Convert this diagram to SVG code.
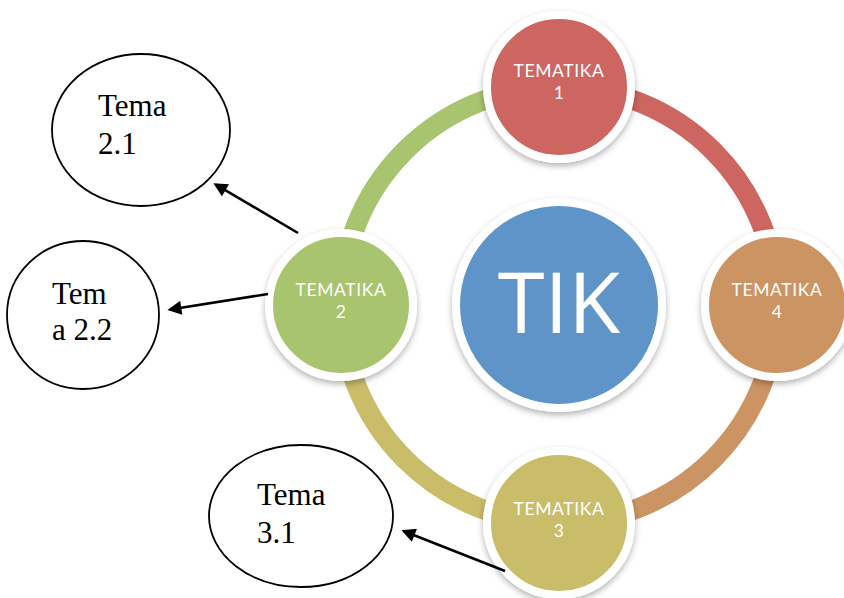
<svg xmlns="http://www.w3.org/2000/svg" width="844" height="598" viewBox="0 0 844 598">
<style>
.ring{fill:none;stroke-width:20}
.node{stroke:#fff;stroke-width:8;filter:url(#sh)}
.nt{font-family:Lato,"Open Sans","Liberation Sans",sans-serif;font-size:17.5px;fill:#fff;text-anchor:middle;letter-spacing:0.6px}
.el{fill:#fff;stroke:#000;stroke-width:1.8}
.et{font-family:"Liberation Serif","Times New Roman",serif;font-size:31px;fill:#000}
.ar{stroke:#000;stroke-width:2.6;fill:none;marker-end:url(#ah)}
</style>
<defs>
<filter id="sh" x="-20%" y="-20%" width="140%" height="140%">
<feDropShadow dx="0" dy="3" stdDeviation="3" flood-color="#000" flood-opacity="0.3"/>
</filter>
<marker id="ah" viewBox="0 0 10 10" refX="8" refY="5" markerWidth="16" markerHeight="14" markerUnits="userSpaceOnUse" orient="auto">
<path d="M0,0 L10,5 L0,10 z" fill="#000"/>
</marker>
</defs>
<rect width="844" height="598" fill="#fff"/>
<g id="ring">
<path class="ring" stroke="#cd6560" d="M559,87 A218,218 0 0 1 777,305"/>
<path class="ring" stroke="#cc9462" d="M777,305 A218,218 0 0 1 559,523"/>
<path class="ring" stroke="#c9bd6a" d="M559,523 A218,218 0 0 1 341,305"/>
<path class="ring" stroke="#a9c46e" d="M341,305 A218,218 0 0 1 559,87"/>
</g>
<g id="tik">
<circle class="node" cx="559" cy="305" r="103" fill="#5e94c8"/>
<text x="559" y="333" font-family="'Open Sans','Liberation Sans',sans-serif" font-size="85" fill="#fff" text-anchor="middle">TIK</text>
</g>
<g id="tematika1">
<circle class="node" cx="559" cy="87" r="72" fill="#cd6560"/>
<text class="nt" x="559" y="77">TEMATIKA</text>
<text class="nt" x="559" y="99">1</text>
</g>
<g id="tematika2">
<circle class="node" cx="341" cy="305" r="72" fill="#a9c46e"/>
<text class="nt" x="341" y="296">TEMATIKA</text>
<text class="nt" x="341" y="318">2</text>
</g>
<g id="tematika3">
<circle class="node" cx="559" cy="523" r="72" fill="#c9bd6a"/>
<text class="nt" x="559" y="515">TEMATIKA</text>
<text class="nt" x="559" y="537">3</text>
</g>
<g id="tematika4">
<circle class="node" cx="777" cy="305" r="72" fill="#cc9462"/>
<text class="nt" x="777" y="296">TEMATIKA</text>
<text class="nt" x="777" y="318">4</text>
</g>
<g id="tema21">
<ellipse class="el" cx="141" cy="130" rx="89" ry="76"/>
<text class="et" x="98" y="116">Tema</text>
<text class="et" x="98" y="154">2.1</text>
</g>
<g id="tema22">
<ellipse class="el" cx="83" cy="315" rx="76" ry="74"/>
<text class="et" x="52" y="304">Tem</text>
<text class="et" x="52" y="340">a 2.2</text>
</g>
<g id="tema31">
<ellipse class="el" cx="301" cy="516" rx="92" ry="71"/>
<text class="et" x="257" y="505">Tema</text>
<text class="et" x="257" y="543">3.1</text>
</g>
<g id="connectors">
<line class="ar" x1="298" y1="233" x2="215.8" y2="184.6"/>
<line class="ar" x1="268" y1="294" x2="170.2" y2="309.5"/>
<line class="ar" x1="505" y1="571" x2="404" y2="531.2"/>
</g>
</svg>
